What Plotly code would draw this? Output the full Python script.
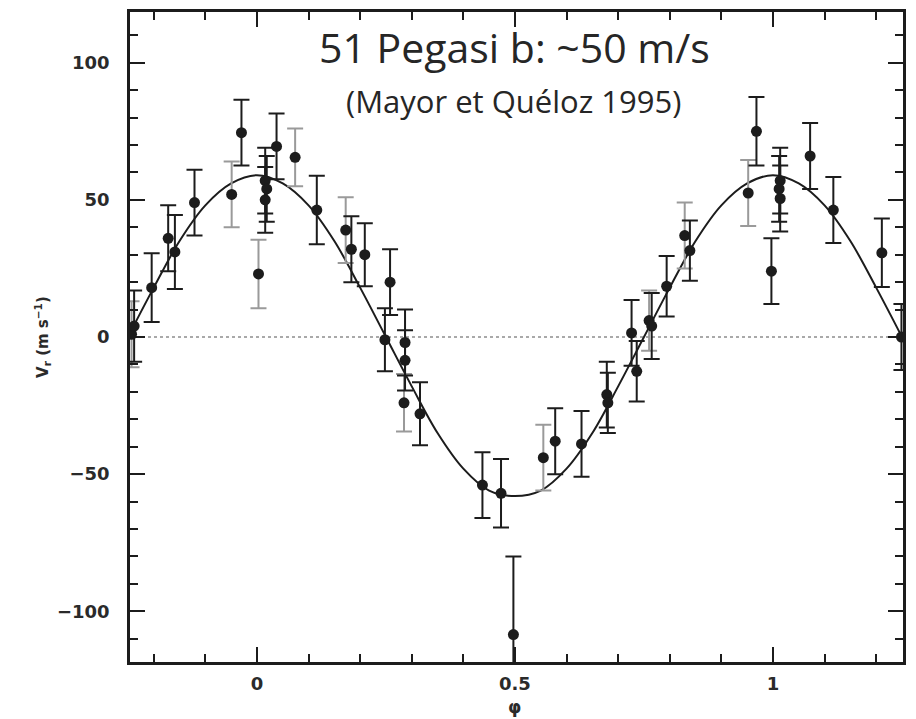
import plotly.graph_objects as go

# ---- data ----
# points whose error bars look black
phase_black = [-0.238, -0.204, -0.172, -0.159, -0.121, -0.030, 0.016, 0.019, 0.016, 0.038,
               0.116, 0.183, 0.209, 0.258, 0.248, 0.287, 0.287, 0.316, 0.437, 0.473,
               0.497, 0.578, 0.629, 0.678, 0.680, 0.726, 0.736, 0.765, 0.794, 0.839,
               0.997, 0.968, 1.014, 1.012, 1.014, 1.072, 1.117, 1.211, 1.249]
v_black = [4, 18, 36, 31, 49, 74.5, 57, 54, 50, 69.5,
           46.3, 32, 30, 20, -1, -2, -8.5, -28, -54, -57,
           -108.5, -38, -39, -21, -24, 1.5, -12.5, 4, 18.5, 31.5,
           24, 75, 57, 54, 50.5, 66, 46.3, 30.7, 0]
err_black = [13, 12.5, 12, 13.5, 12, 12, 12, 12, 12, 12,
             12.5, 12, 11.5, 12, 11.5, 12, 11, 11.5, 12, 12.5,
             28.5, 12, 12, 12, 11, 12, 11, 12, 11, 11,
             12, 12.5, 12, 12, 12, 12, 12, 12.5, 12]

# points whose error bars look grey
phase_gray = [-0.243, -0.049, 0.003, 0.074, 0.172, 0.285, 0.555, 0.760, 0.829, 0.952]
v_gray = [1, 52, 23, 65.5, 39, -24, -44, 6, 37, 52.5]
err_gray = [12, 12, 12.5, 10.5, 12, 10.5, 12, 11, 12, 12]

# orbital fit curve
curve_phase = [-0.25, -0.20, -0.15, -0.10, -0.05, 0.00, 0.05, 0.10, 0.15, 0.20,
               0.25, 0.30, 0.35, 0.40, 0.45, 0.50, 0.55, 0.60, 0.65, 0.70,
               0.75, 0.80, 0.85, 0.90, 0.95, 1.00, 1.05, 1.10, 1.15, 1.20, 1.25]
curve_v = [0, 18, 35, 48, 56, 59, 56, 48, 35, 18,
           0, -18, -35, -48, -56, -58, -56, -48, -35, -18,
           0, 18, 35, 48, 56, 59, 56, 48, 35, 18, 0]

title_text = "51 Pegasi b: ~50 m/s"
subtitle_text = "(Mayor et Quéloz 1995)"
ylabel_text = "V<sub>r</sub> (m s<sup>−1</sup>)"
xlabel_text = "φ"

X_RANGE = [-0.246, 1.252]
Y_RANGE = [-118.5, 118.5]
INK = "#1c1c1c"

fig = go.Figure()

fig.add_hline(y=0, line=dict(color="#555", width=1.2, dash="dot"), layer="below")

fig.add_trace(go.Scatter(
    x=curve_phase, y=curve_v, mode="lines",
    line=dict(color=INK, width=2, shape="spline", smoothing=1.0),
    hoverinfo="skip", showlegend=False))

fig.add_trace(go.Scatter(
    x=phase_gray, y=v_gray, mode="markers",
    marker=dict(color=INK, size=11),
    error_y=dict(type="data", array=err_gray, color="#9a9a9a", thickness=2, width=8),
    showlegend=False))

fig.add_trace(go.Scatter(
    x=phase_black, y=v_black, mode="markers",
    marker=dict(color=INK, size=11),
    error_y=dict(type="data", array=err_black, color=INK, thickness=2, width=8),
    showlegend=False))

# invisible trace to carry the top / right tick axes
fig.add_trace(go.Scatter(x=X_RANGE, y=Y_RANGE, xaxis="x2", yaxis="y2", mode="markers",
                         marker=dict(opacity=0), hoverinfo="skip", showlegend=False))

tickfont = dict(family="DejaVu Sans", size=18, color="#2a2a2a", weight="bold")
xtick = dict(tick0=0, dtick=0.5, ticks="inside", ticklen=15, tickwidth=2, tickcolor=INK,
             minor=dict(dtick=0.1, tick0=0, ticks="inside", ticklen=8, tickwidth=2, tickcolor=INK),
             showgrid=False, zeroline=False)
ytick = dict(tick0=0, dtick=50, ticks="inside", ticklen=15, tickwidth=2, tickcolor=INK,
             minor=dict(dtick=10, tick0=0, ticks="inside", ticklen=8, tickwidth=2, tickcolor=INK),
             showgrid=False, zeroline=False)

fig.update_layout(
    xaxis=dict(range=X_RANGE, showline=True, linecolor=INK, linewidth=2.5,
               tickfont=tickfont, ticklabelstandoff=4, **xtick),
    yaxis=dict(range=Y_RANGE, showline=True, linecolor=INK, linewidth=2.5,
               tickfont=tickfont, ticklabelstandoff=14, **ytick),
    xaxis2=dict(range=X_RANGE, overlaying="x", side="top", showline=True, linecolor=INK,
                linewidth=2.5, showticklabels=False, anchor="y", **xtick),
    yaxis2=dict(range=Y_RANGE, overlaying="y", side="right", showline=True, linecolor=INK,
                linewidth=2.5, showticklabels=False, anchor="x", **ytick),
)

fig.add_annotation(text=title_text, xref="paper", yref="paper", x=0.498, y=0.946,
                   xanchor="center", yanchor="middle", showarrow=False,
                   font=dict(family="Open Sans", size=41, color="#262626"))
fig.add_annotation(text=subtitle_text, xref="paper", yref="paper", x=0.496, y=0.863,
                   xanchor="center", yanchor="middle", showarrow=False,
                   font=dict(family="Open Sans", size=31, color="#262626"))
fig.add_annotation(text=ylabel_text, xref="paper", yref="paper", x=-0.114, y=0.50,
                   xanchor="center", yanchor="middle", showarrow=False, textangle=-90,
                   font=dict(family="DejaVu Sans", size=15, color="#2a2a2a", weight="bold"))
fig.add_annotation(text=xlabel_text, xref="paper", yref="paper", x=0.497, y=-0.069,
                   xanchor="center", yanchor="middle", showarrow=False,
                   font=dict(family="DejaVu Sans", size=17, color="#2a2a2a", weight="bold"))

fig.update_layout(
    width=916, height=719,
    margin=dict(l=130, r=13, t=12, b=57),
    paper_bgcolor="white", plot_bgcolor="white",
    showlegend=False)

fig.write_html("out.html")
